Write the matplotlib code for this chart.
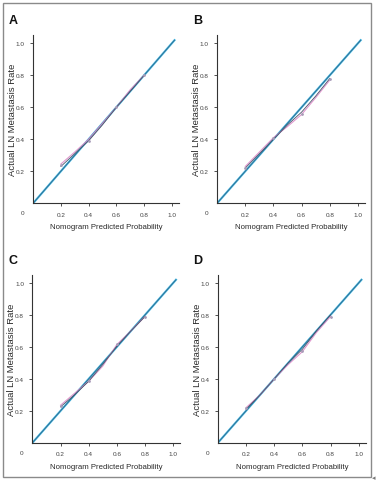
import matplotlib.pyplot as plt
from matplotlib.patches import Rectangle

plt.rcParams['font.family'] = ['Liberation Sans', 'DejaVu Sans']

# calibration data
panel_labels = ['A', 'B', 'C', 'D']
ideal_x = [0, 1.02]
group_x = [0.2, 0.3, 0.4, 0.5, 0.6, 0.7, 0.8]

apparent_a = [0.245, 0.32, 0.40, 0.50, 0.60, 0.71, 0.80]
apparent_b = [0.23, 0.32, 0.41, 0.48, 0.555, 0.66, 0.77]
apparent_c = [0.235, 0.31, 0.385, 0.48, 0.615, 0.70, 0.79]
apparent_d = [0.22, 0.30, 0.40, 0.49, 0.57, 0.69, 0.79]

corrected_a = [0.23, 0.31, 0.39, 0.49, 0.60, 0.70, 0.80]
corrected_b = [0.22, 0.31, 0.40, 0.49, 0.57, 0.67, 0.78]
corrected_c = [0.225, 0.30, 0.385, 0.49, 0.605, 0.70, 0.79]
corrected_d = [0.21, 0.30, 0.40, 0.50, 0.585, 0.70, 0.80]

points_x = [0.2, 0.4, 0.6, 0.8]
points_a = [0.24, 0.39, 0.60, 0.80]
points_b = [0.22, 0.41, 0.56, 0.78]
points_c = [0.23, 0.385, 0.615, 0.79]
points_d = [0.22, 0.40, 0.574, 0.79]

tick_vals = [0.2, 0.4, 0.6, 0.8, 1.0]
tick_labels = ['0.2', '0.4', '0.6', '0.8', '1.0']

apparent = [apparent_a, apparent_b, apparent_c, apparent_d]
corrected = [corrected_a, corrected_b, corrected_c, corrected_d]
points = [points_a, points_b, points_c, points_d]

# axes rectangles in figure fractions
positions = [
    [0.088, 0.579, 0.386, 0.346],
    [0.576, 0.579, 0.392, 0.346],
    [0.086, 0.085, 0.392, 0.346],
    [0.578, 0.085, 0.392, 0.346],
]

fig = plt.figure(figsize=(3.77, 4.85), dpi=100, facecolor='white')
fig.patches.append(Rectangle((3/377, 1 - 478/485), 368/377, 474/485,
                             transform=fig.transFigure, fill=False,
                             edgecolor='#8a8a8a', lw=1.0))
fig.text(374/377, 1 - 478/485, '\u25c2', fontsize=5, color='#777777',
         ha='center', va='center', family=['DejaVu Sans'])

for i, pos in enumerate(positions):
    ax = fig.add_axes(pos)
    # ideal line: cyan with a darker core, as in the scan
    ax.plot(ideal_x, ideal_x, color='#3fb4e0', lw=1.5, zorder=2)
    ax.plot(ideal_x, ideal_x, color='#34607f', lw=0.5, zorder=2.5)
    ax.plot(group_x, apparent[i], color='#dc8cc8', lw=0.8, alpha=0.9, zorder=3)
    ax.plot(group_x, corrected[i], color='#4a5468', lw=0.6, zorder=4)
    ax.plot(points_x, points[i], linestyle='none', marker='o', ms=1.0,
            color='#a89cb8', zorder=5)
    ax.set_xlim(0, 1.05)
    ax.set_ylim(0, 1.05)
    ax.spines['top'].set_visible(False)
    ax.spines['right'].set_visible(False)
    for s in ['left', 'bottom']:
        ax.spines[s].set_color('#333333')
        ax.spines[s].set_linewidth(0.8)
    ax.set_xticks(tick_vals, labels=tick_labels)
    ax.set_yticks(tick_vals, labels=tick_labels)
    ax.tick_params(length=2, width=0.6, color='#333333', labelsize=4.6,
                   labelcolor='#444444', pad=4)
    ax.annotate('0', xy=(0, 0), xycoords='data', xytext=(-7.5, -6.8),
                textcoords='offset points', ha='center', va='center',
                fontsize=4.6, color='#444444')
    ax.set_xlabel('Nomogram Predicted Probability', fontsize=5.6,
                  color='#2a2a2a', labelpad=5)
    ax.set_ylabel('Actual LN Metastasis Rate', fontsize=6.8,
                  color='#2a2a2a')
    ax.yaxis.set_label_coords(-0.11, 0.5)
    ax.text(-0.165, 1.09, panel_labels[i], transform=ax.transAxes,
            fontsize=9, fontweight='bold', ha='left', va='center',
            color='#111111')

fig.savefig('out.png', dpi=100)
